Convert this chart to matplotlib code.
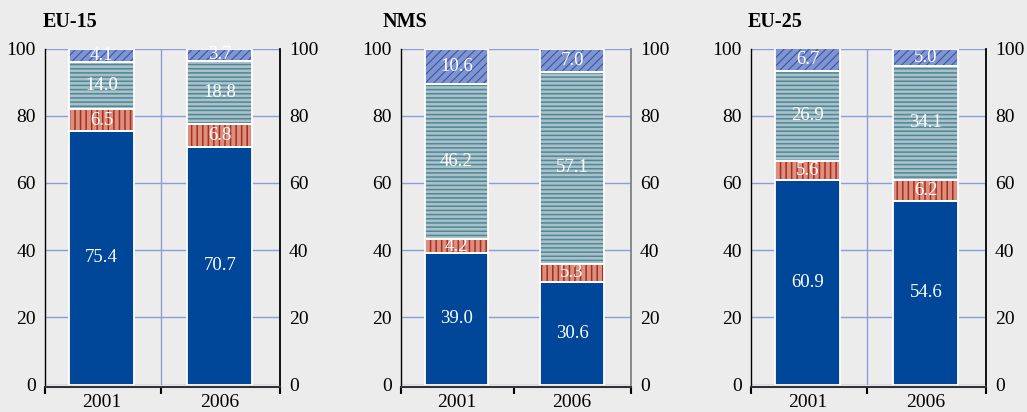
import matplotlib
matplotlib.use("Agg")
import matplotlib.pyplot as plt

plt.rcParams['font.family'] = ['Liberation Serif', 'DejaVu Serif']

years = ["2001", "2006"]
panels = ["EU-15", "NMS", "EU-25"]

# segments from bottom to top
seg1 = {"EU-15": [75.4, 70.7], "NMS": [39.0, 30.6], "EU-25": [60.9, 54.6]}
seg2 = {"EU-15": [6.5, 6.8], "NMS": [4.2, 5.3], "EU-25": [5.6, 6.2]}
seg3 = {"EU-15": [14.0, 18.8], "NMS": [46.2, 57.1], "EU-25": [26.9, 34.1]}
seg4 = {"EU-15": [4.1, 3.7], "NMS": [10.6, 7.0], "EU-25": [6.7, 5.0]}

yticks = [0, 20, 40, 60, 80, 100]

# face colour, hatch, hatch colour, hatch width
styles = [
    ("#00479A", None, None, 0),
    ("#D9907E", "|||", "#B02A1E", 1.1),
    ("#AEC0C7", "----", "#48899A", 1.1),
    ("#8094D0", "////", "#2E4FA8", 0.7),
]

bg = "#EBECEB"
grid_col = "#8F9CDA"

fig = plt.figure(figsize=(10.27, 4.12), dpi=100, facecolor=bg)

ax_pos = {"EU-15": (45, 235), "NMS": (401, 230), "EU-25": (751, 235)}
title_x = {"EU-15": 43, "NMS": 383, "EU-25": 748}
right_col = {"EU-15": "black", "NMS": "#808080", "EU-25": "black"}
mid_line = {"EU-15": True, "NMS": False, "EU-25": True}

W, H = 1027, 412
bottom_px, top_px = 384.5, 48.5

for name in panels:
    x0, w = ax_pos[name]
    ax = fig.add_axes([x0 / W, (H - bottom_px) / H, w / W, (bottom_px - top_px) / H])
    ax.set_facecolor(bg)
    xs = [0, 1]
    bw = 0.55
    base = [0.0, 0.0]
    segs = [seg1[name], seg2[name], seg3[name], seg4[name]]
    for vals, (fc, hatch, hc, hlw) in zip(segs, styles):
        if hatch is None:
            ax.bar(xs, vals, bw, bottom=base, color=fc, linewidth=0, zorder=2)
        else:
            bars = ax.bar(xs, vals, bw, bottom=base, facecolor=fc, edgecolor=hc,
                          hatch=hatch, linewidth=0, zorder=2)
            for b in bars:
                if hasattr(b, "set_hatch_linewidth"):
                    b.set_hatch_linewidth(hlw)
        ax.bar(xs, vals, bw, bottom=base, fill=False, edgecolor="white",
               linewidth=1.3, zorder=3)
        for x, v, b0 in zip(xs, vals, base):
            ax.text(x, b0 + v / 2, f"{v:.1f}", ha="center", va="center",
                    color="white", fontsize=13.5, zorder=4)
        base = [b0 + v for b0, v in zip(base, vals)]

    ax.set_xlim(-0.48, 1.51)
    ax.set_ylim(0, 100)
    ax.set_yticks(yticks)
    ax.yaxis.grid(True, color=grid_col, linewidth=1)
    if mid_line[name]:
        ax.axvline(0.5, color=grid_col, linewidth=1, zorder=0.5)
    ax.set_axisbelow(True)
    ax.tick_params(axis="y", left=False, right=False, labelleft=True,
                   labelright=True, labelsize=14, pad=3)

    ax.set_xticks(xs)
    ax.set_xticklabels(years)
    ax.set_xticks([-0.48, 0.5, 1.51], minor=True)
    ax.tick_params(axis="x", which="major", length=0, labelsize=14, pad=5)
    ax.tick_params(axis="x", which="minor", length=5, width=1.5, direction="out")

    ax.spines["top"].set_visible(False)
    ax.spines["left"].set_color("black")
    ax.spines["left"].set_linewidth(1)
    ax.spines["right"].set_color(right_col[name])
    ax.spines["right"].set_linewidth(1.3)
    ax.spines["bottom"].set_position(("outward", 2))
    ax.spines["bottom"].set_linewidth(1.5)
    ax.spines["bottom"].set_color("#333333")

    fig.text(title_x[name] / W, (H - 27) / H, name, fontsize=14.5,
             fontweight="bold", ha="left", va="baseline")

fig.savefig("out.png", dpi=100, facecolor=bg)
